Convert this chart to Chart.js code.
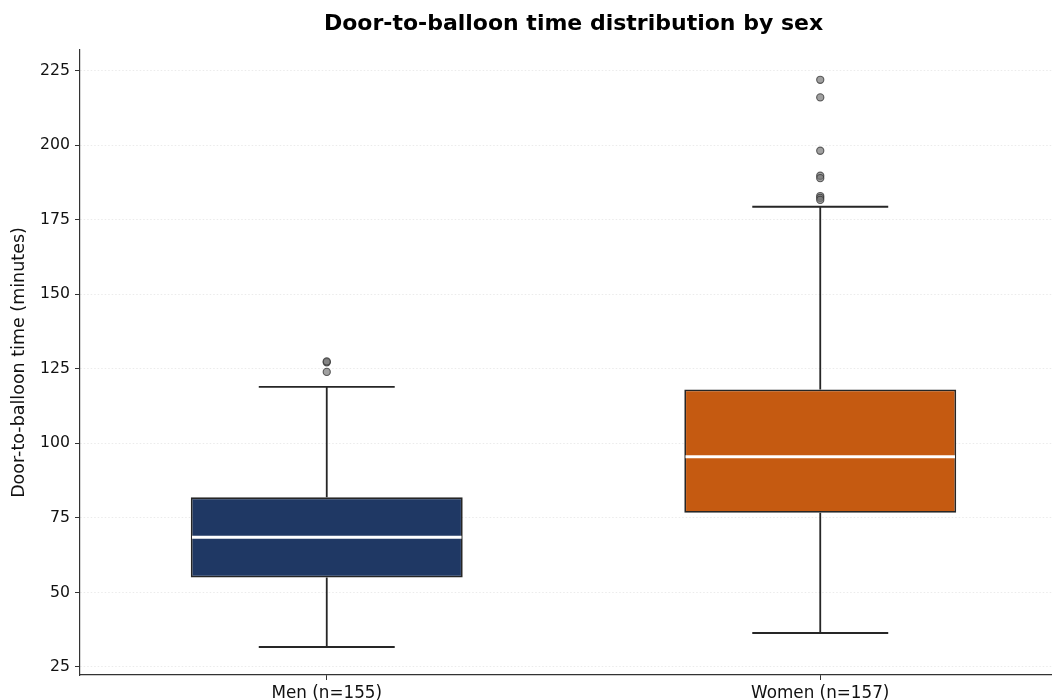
<!DOCTYPE html>
<html>
<head>
<meta charset="utf-8">
<script src="https://cdn.jsdelivr.net/npm/chart.js@4/dist/chart.umd.min.js"></script>
<style>
  html, body { margin: 0; padding: 0; background: #ffffff; }
  #wrap { width: 1052px; height: 700px; overflow: hidden; position: relative; }
  #chart { position: absolute; left: 0; top: 0; }
</style>
</head>
<body>
<div id="wrap"><canvas id="chart" width="1147" height="720"></canvas></div>
<script>
// Door-to-balloon time (minutes) summary per group
const categories   = ['Men (n=155)', 'Women (n=157)'];
const whiskerLow   = [31.7, 36.4];
const quartile1    = [55.0, 76.7];
const medians      = [68.5, 95.5];
const quartile3    = [81.9, 118.1];
const whiskerHigh  = [119.0, 179.4];
const outliersMen   = [127.2, 127.5, 124.0];
const outliersWomen = [222.0, 216.1, 198.2, 189.8, 189.0, 183.0, 182.4, 181.7];
const yTicks = [25, 50, 75, 100, 125, 150, 175, 200, 225];

const boxColors = ['#1F3864', '#C55A11'];
const FONT = "'DejaVu Sans', sans-serif";

const outlierPoints = [];
outliersMen.forEach(v => outlierPoints.push({ x: categories[0], y: v }));
outliersWomen.forEach(v => outlierPoints.push({ x: categories[1], y: v }));

// Whiskers behind the boxes, medians on top of them
const boxExtras = {
  id: 'boxExtras',
  beforeDatasetsDraw(chart) {
    const ctx = chart.ctx;
    const xs = chart.scales.x, ys = chart.scales.y;
    const meta = chart.getDatasetMeta(0);
    ctx.save();
    ctx.strokeStyle = '#262626';
    ctx.lineWidth = 1.8;
    categories.forEach((c, i) => {
      const x = xs.getPixelForValue(i);
      const half = meta.data[i].width / 4;
      ctx.beginPath();
      ctx.moveTo(x, ys.getPixelForValue(quartile3[i]));
      ctx.lineTo(x, ys.getPixelForValue(whiskerHigh[i]));
      ctx.moveTo(x, ys.getPixelForValue(quartile1[i]));
      ctx.lineTo(x, ys.getPixelForValue(whiskerLow[i]));
      ctx.moveTo(x - half, ys.getPixelForValue(whiskerHigh[i]));
      ctx.lineTo(x + half, ys.getPixelForValue(whiskerHigh[i]));
      ctx.moveTo(x - half, ys.getPixelForValue(whiskerLow[i]));
      ctx.lineTo(x + half, ys.getPixelForValue(whiskerLow[i]));
      ctx.stroke();
    });
    ctx.restore();
  },
  afterDatasetDraw(chart, args) {
    if (args.index !== 0) return;
    const ctx = chart.ctx;
    const xs = chart.scales.x, ys = chart.scales.y;
    const meta = chart.getDatasetMeta(0);
    ctx.save();
    ctx.strokeStyle = '#ffffff';
    ctx.lineWidth = 3;
    categories.forEach((c, i) => {
      const x = xs.getPixelForValue(i);
      const half = meta.data[i].width / 2 - 1.2;
      const y = ys.getPixelForValue(medians[i]);
      ctx.beginPath();
      ctx.moveTo(x - half, y);
      ctx.lineTo(x + half, y);
      ctx.stroke();
    });
    ctx.restore();
  }
};

new Chart(document.getElementById('chart'), {
  type: 'bar',
  data: {
    labels: categories,
    datasets: [
      {
        type: 'bar',
        data: categories.map((c, i) => [quartile1[i], quartile3[i]]),
        backgroundColor: boxColors,
        borderColor: '#262626',
        borderWidth: 1.8,
        borderSkipped: false,
        categoryPercentage: 1.0,
        barPercentage: 0.551,
        order: 2
      },
      {
        type: 'scatter',
        data: outlierPoints,
        backgroundColor: 'rgba(120,120,120,0.7)',
        borderColor: 'rgba(50,50,50,0.75)',
        borderWidth: 1.1,
        pointRadius: 3.6,
        order: 1
      }
    ]
  },
  options: {
    responsive: false,
    animation: false,
    devicePixelRatio: 1,
    layout: { padding: 0 },
    plugins: {
      legend: { display: false },
      tooltip: { enabled: false },
      title: {
        display: true,
        text: 'Door-to-balloon time distribution by sex',
        color: '#000000',
        font: { family: FONT, size: 22, weight: 'bold', lineHeight: 1.2 },
        padding: { top: 11, bottom: 12.6 }
      }
    },
    scales: {
      x: {
        type: 'category',
        offset: true,
        afterFit(scale) { scale.height = 45; },
        grid: { display: true, drawOnChartArea: false, drawTicks: true, offset: false, tickLength: 5, tickColor: '#333333', tickWidth: 1 },
        border: { display: true, color: '#333333', width: 1.2 },
        ticks: { color: '#111111', font: { family: FONT, size: 16.8 }, padding: 4, maxRotation: 0 }
      },
      y: {
        type: 'linear',
        position: 'left',
        min: 22.3,
        max: 232.0,
        afterFit(scale) { scale.width = 80; },
        afterBuildTicks(scale) { scale.ticks = yTicks.map(v => ({ value: v })); },
        grid: { display: true, color: '#e6e6e6', lineWidth: 0.8, tickColor: '#333333', tickLength: 5, tickWidth: 1, tickBorderDash: [] },
        border: { display: true, color: '#333333', width: 1.2, dash: [1.5, 2] },
        ticks: { color: '#111111', font: { family: FONT, size: 15.7 }, padding: 5, includeBounds: false },
        title: {
          display: true,
          text: 'Door-to-balloon time (minutes)',
          color: '#111111',
          font: { family: FONT, size: 17.5 },
          padding: { top: 8.5, bottom: 0 }
        }
      },
      // empty right-hand band so the title centres over the plot area
      yRight: {
        type: 'linear',
        position: 'right',
        display: true,
        afterFit(scale) { scale.width = 80; },
        grid: { display: false, drawOnChartArea: false, drawTicks: false },
        border: { display: false },
        ticks: { display: false }
      }
    }
  },
  plugins: [boxExtras]
});
</script>
</body>
</html>
